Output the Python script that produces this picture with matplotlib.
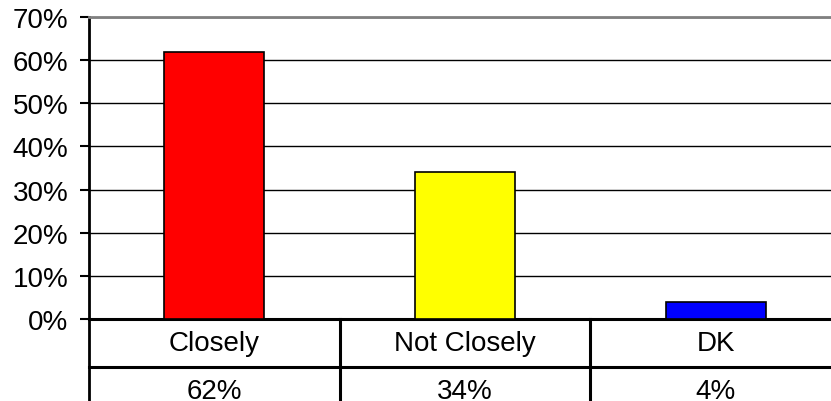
import matplotlib.pyplot as plt
import matplotlib.transforms as mtransforms
import numpy as np

plt.rcParams['font.family'] = ['Liberation Sans', 'DejaVu Sans']

categories = ['Closely', 'Not Closely', 'DK']
values = [62, 34, 4]
colours = ['#ff0000', '#ffff00', '#0000ff']
yticks = [0, 10, 20, 30, 40, 50, 60, 70]

W, H = 831, 402
fig = plt.figure(figsize=(W / 100, H / 100), dpi=100)
# plot area in pixels: x 89..841 (runs past the right edge), y 18..320
ax = fig.add_axes([89 / W, (H - 320) / H, (841 - 89) / W, (320 - 18) / H])

x = np.arange(len(categories))
ax.bar(x, values, width=0.4, color=colours, edgecolor='black', linewidth=1.2, zorder=3)

ax.set_xlim(-0.5, len(categories) - 0.5)
ax.set_ylim(0, 70)
ax.set_yticks(yticks)
ax.set_yticklabels([f'{t}%' for t in yticks], fontsize=20)
ax.tick_params(axis='y', direction='out', length=6.5, width=1.5, pad=8.5)
ax.set_xticks([])

ax.yaxis.grid(True, color='black', linewidth=1)
ax.set_axisbelow(True)

ax.spines['left'].set_linewidth(2)
ax.spines['bottom'].set_linewidth(2.2)
ax.spines['top'].set_color('#808080')
ax.spines['top'].set_linewidth(2)
ax.spines['right'].set_visible(False)

# data table below the chart
row_h = 48 / (320 - 18)
trans = mtransforms.blended_transform_factory(ax.transData, ax.transAxes)
lw = 2.2
ax.plot([-0.5, -0.5], [0, -2 * row_h], color='black', lw=2, transform=trans, clip_on=False)
ax.plot([-0.5, len(categories) - 0.5], [-row_h, -row_h], color='black', lw=lw,
        transform=trans, clip_on=False)
for b in np.arange(len(categories) - 1) + 0.5:
    ax.plot([b, b], [0, -2 * row_h], color='black', lw=lw, transform=trans, clip_on=False)

for i, (c, v) in enumerate(zip(categories, values)):
    ax.text(i, -0.5 * row_h, c, transform=trans, ha='center', va='center', fontsize=20)
    ax.text(i, -1.5 * row_h, f'{v}%', transform=trans, ha='center', va='center', fontsize=20)

fig.savefig('out.png', dpi=100)
